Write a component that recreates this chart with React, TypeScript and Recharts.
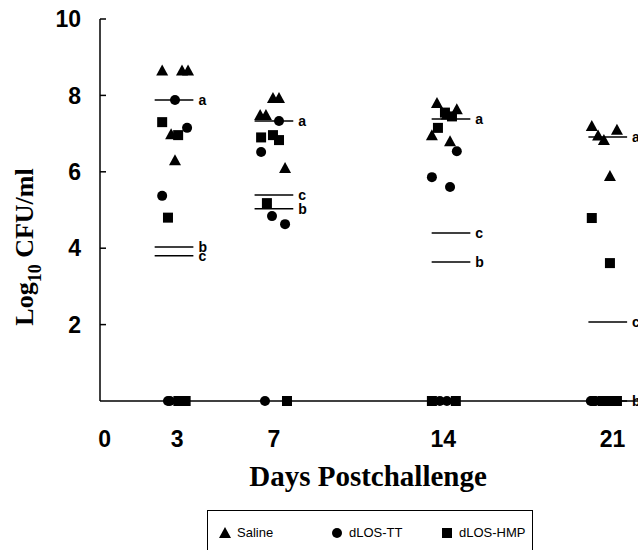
import { ScatterChart, Scatter, XAxis, YAxis, ReferenceLine, Legend } from "recharts";

type Pt = { x: number; y: number };

// x = sampling day (spread sideways as in the figure), y = log10 CFU/ml
const saline: Pt[] = [
  { x: 2.38, y: 8.65 }, { x: 3.2, y: 8.65 }, { x: 3.45, y: 8.65 }, { x: 2.75, y: 6.98 }, { x: 2.91, y: 6.3 },
  { x: 6.96, y: 7.93 }, { x: 7.21, y: 7.93 }, { x: 6.43, y: 7.49 }, { x: 6.67, y: 7.49 }, { x: 7.46, y: 6.1 },
  { x: 13.74, y: 7.8 }, { x: 14.56, y: 7.64 }, { x: 14.15, y: 7.5 }, { x: 13.53, y: 6.96 }, { x: 14.28, y: 6.8 },
  { x: 20.14, y: 7.2 }, { x: 21.18, y: 7.1 }, { x: 20.64, y: 6.83 }, { x: 20.89, y: 5.89 }, { x: 20.4, y: 6.95 },
];

const dlosTT: Pt[] = [
  { x: 2.91, y: 7.88 }, { x: 3.41, y: 7.15 }, { x: 2.38, y: 5.37 }, { x: 2.62, y: 0 }, { x: 2.7, y: 0 },
  { x: 7.21, y: 7.33 }, { x: 6.47, y: 6.52 }, { x: 6.92, y: 4.84 }, { x: 7.46, y: 4.63 }, { x: 6.63, y: 0 },
  { x: 14.56, y: 6.54 }, { x: 13.53, y: 5.86 }, { x: 14.28, y: 5.6 }, { x: 13.86, y: 0 }, { x: 14.15, y: 0 },
  { x: 20.1, y: 0 }, { x: 20.15, y: 0 }, { x: 20.2, y: 0 }, { x: 20.25, y: 0 }, { x: 20.3, y: 0 },
];

const dlosHMP: Pt[] = [
  { x: 2.38, y: 7.3 }, { x: 3.04, y: 6.96 }, { x: 2.62, y: 4.8 }, { x: 3.05, y: 0 }, { x: 3.35, y: 0 },
  { x: 6.47, y: 6.9 }, { x: 6.96, y: 6.96 }, { x: 7.21, y: 6.83 }, { x: 6.71, y: 5.18 }, { x: 7.54, y: 0 },
  { x: 14.07, y: 7.55 }, { x: 14.36, y: 7.45 }, { x: 13.78, y: 7.15 }, { x: 13.53, y: 0 }, { x: 14.52, y: 0 },
  { x: 20.14, y: 4.79 }, { x: 20.89, y: 3.61 }, { x: 20.6, y: 0 }, { x: 20.89, y: 0 }, { x: 21.18, y: 0 },
];

// group means per day, with their letters
const meanCenters = [2.87, 7.0, 14.32, 20.8];
const meanA = [7.88, 7.33, 7.38, 6.91];
const meanB = [4.03, 5.03, 3.64, 0];
const meanC = [3.8, 5.39, 4.4, 2.07];

const dayTicks = [0, 3, 7, 14, 21];
const yTicks = [2, 4, 6, 8, 10];

const HALF = 0.8;
const SANS = "'Liberation Sans', Arial, sans-serif";
const SERIF = "'Liberation Serif', 'Times New Roman', serif";

const Triangle = ({ cx, cy }: any) => (
  <polygon points={`${cx - 6},${cy + 5} ${cx + 6},${cy + 5} ${cx},${cy - 6}`} fill="#000" />
);
const Dot = ({ cx, cy }: any) => <circle cx={cx} cy={cy} r={5} fill="#000" />;
const Square = ({ cx, cy }: any) => <rect x={cx - 5} y={cy - 5} width={10} height={10} fill="#000" />;

const YTick = ({ x, y, payload }: any) => (
  <g>
    <line x1={x} x2={x + 6} y1={y} y2={y} stroke="#000" strokeWidth={1.5} />
    <text x={x - 19} y={y} dy="0.36em" textAnchor="end" fontFamily={SANS} fontWeight="bold" fontSize={23} fill="#000">
      {payload.value}
    </text>
  </g>
);

const XTick = ({ x, y, payload }: any) => (
  <text x={x} y={y + 38} dy="0.36em" textAnchor="middle" fontFamily={SANS} fontWeight="bold" fontSize={23} fill="#000">
    {payload.value}
  </text>
);

const letterLabel = (letter: string) => (p: any) => {
  const vb = p.viewBox || {};
  const x = vb.x !== undefined ? vb.x + (vb.width || 0) : vb.x2;
  const y = vb.y !== undefined ? vb.y + (vb.height || 0) / 2 : vb.y2;
  return (
    <text x={x + 5} y={y} dy="0.34em" fontFamily={SANS} fontWeight="bold" fontSize={14} fill="#000">
      {letter}
    </text>
  );
};

const legendItems = [
  { name: "Saline", Icon: Triangle, left: 16 },
  { name: "dLOS-TT", Icon: Dot, left: 128 },
  { name: "dLOS-HMP", Icon: Square, left: 238 },
];

const LegendBox = () => (
  <div
    style={{
      position: "relative",
      width: 326,
      height: 40,
      boxSizing: "border-box",
      borderTop: "1.5px solid #000",
      borderLeft: "1.5px solid #000",
      borderRight: "1.5px solid #000",
      fontFamily: SANS,
      fontSize: 13,
      color: "#000",
    }}
  >
    {legendItems.map((it) => (
      <div key={it.name} style={{ position: "absolute", left: it.left - 6, top: 14, display: "flex", alignItems: "center" }}>
        <svg width={14} height={14}>
          <it.Icon cx={7} cy={7} />
        </svg>
        <span style={{ marginLeft: 5 }}>{it.name}</span>
      </div>
    ))}
  </div>
);

const meanSets = [
  { values: meanA, letter: "a" },
  { values: meanB, letter: "b" },
  { values: meanC, letter: "c" },
];

export default function App() {
  return (
    <div style={{ position: "absolute", left: 0, top: 0, width: 638, height: 550, background: "#fff" }}>
      <ScatterChart width={638} height={550} margin={{ top: 19, right: 0, bottom: 89, left: 0 }}>
        <XAxis
          type="number"
          dataKey="x"
          domain={[-0.19, 22.05]}
          ticks={dayTicks}
          allowDataOverflow
          tickLine={false}
          tickSize={0}
          tickMargin={0}
          axisLine={{ stroke: "#000", strokeWidth: 1.5 }}
          tick={<XTick />}
          height={60}
          label={() => (
            <text x={368} y={476} dy="0.36em" textAnchor="middle" fontFamily={SERIF} fontWeight="bold" fontSize={29} fill="#000">
              Days Postchallenge
            </text>
          )}
        />
        <YAxis
          type="number"
          dataKey="y"
          domain={[0, 10]}
          ticks={yTicks}
          tickLine={false}
          tickSize={0}
          tickMargin={0}
          width={100}
          axisLine={{ stroke: "#000", strokeWidth: 1.5 }}
          tick={<YTick />}
          label={() => (
            <text
              x={33}
              y={247}
              textAnchor="middle"
              transform="rotate(-90, 33, 247)"
              fontFamily={SERIF}
              fontWeight="bold"
              fontSize={26}
              fill="#000"
            >
              Log<tspan fontSize={18} dy={8}>10</tspan>
              <tspan dy={-8}>{"  CFU/ml"}</tspan>
            </text>
          )}
        />
        <Legend
          layout="horizontal"
          verticalAlign="middle"
          align="center"
          wrapperStyle={{ left: 207, top: 510, width: 326, height: 40 }}
          content={() => <LegendBox />}
        />
        {meanSets.map((set) =>
          set.values.map((v, i) => (
            <ReferenceLine
              key={`${set.letter}-${i}`}
              segment={[
                { x: meanCenters[i] - HALF, y: v },
                { x: meanCenters[i] + HALF, y: v },
              ]}
              stroke="#000"
              strokeWidth={1.5}
              ifOverflow="visible"
              label={letterLabel(set.letter)}
            />
          ))
        )}
        <Scatter name="Saline" data={saline} shape={<Triangle />} isAnimationActive={false} />
        <Scatter name="dLOS-TT" data={dlosTT} shape={<Dot />} isAnimationActive={false} />
        <Scatter name="dLOS-HMP" data={dlosHMP} shape={<Square />} isAnimationActive={false} />
      </ScatterChart>
    </div>
  );
}
